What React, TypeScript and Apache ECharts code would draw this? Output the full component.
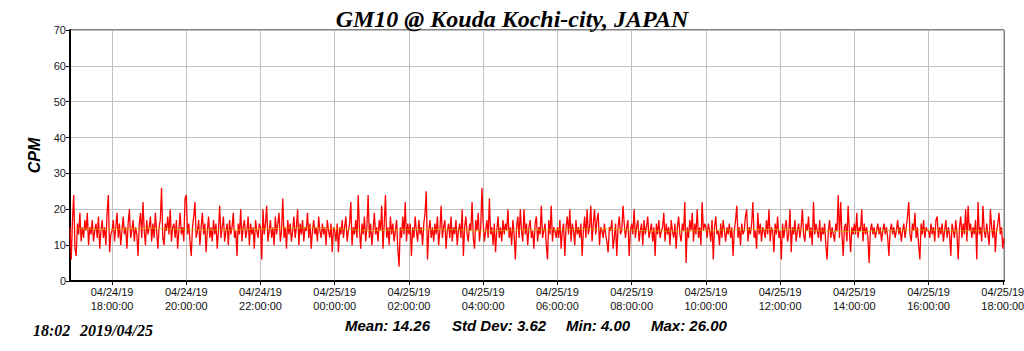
import React, { useEffect, useRef } from "react";
import * as echarts from "echarts";

// Time axis: minutes since 2019-04-24 00:00, samples every 2 minutes
const START_MIN = 1012; // 04/24 16:52
const STEP_MIN = 2;
const END_MIN = 2522; // 04/25 18:02
const tickMinutes = [1080, 1200, 1320, 1440, 1560, 1680, 1800, 1920, 2040, 2160, 2280, 2400, 2520];
const yTicks = [0, 10, 20, 30, 40, 50, 60, 70];

// CPM readings (2-minute samples) per 2-hour block
const block0 = [15, 6, 17, 24, 9, 7, 16, 13, 19, 11, 15, 12, 17, 14, 19, 10, 15, 13, 17, 11, 14, 16, 12, 18, 9, 14, 17, 12, 15, 10, 19, 24, 8, 13];
const block1 = [14, 17, 11, 15, 19, 12, 16, 10, 14, 18, 13, 15, 9, 16, 20, 12, 14, 17, 11, 15, 13, 7, 16, 19, 12, 22, 14, 10, 17, 13, 15, 18, 11, 16, 12, 19, 14, 9, 15, 17, 26, 12, 10, 16, 14, 18, 13, 20, 11, 15, 16, 12, 17, 9, 14, 19, 13, 15, 11, 23];
const block2 = [24, 13, 16, 11, 7, 15, 18, 22, 12, 14, 17, 10, 15, 19, 13, 16, 8, 14, 18, 12, 15, 11, 17, 13, 16, 9, 14, 21, 12, 15, 18, 11, 14, 16, 10, 17, 13, 15, 19, 12, 14, 7, 16, 13, 20, 11, 15, 17, 12, 14, 18, 10, 16, 13, 15, 9, 17, 14, 12, 16];
const block3 = [15, 6, 20, 13, 16, 21, 11, 14, 17, 12, 15, 10, 18, 13, 16, 19, 11, 14, 23, 12, 15, 9, 17, 13, 16, 11, 14, 18, 12, 15, 20, 10, 16, 13, 17, 11, 15, 14, 19, 12, 16, 9, 14, 17, 13, 15, 11, 18, 14, 12, 16, 13, 15, 10, 17, 14, 12, 16, 8, 15];
const block4 = [14, 11, 16, 8, 15, 13, 17, 12, 15, 18, 11, 14, 16, 22, 10, 15, 13, 17, 12, 24, 14, 9, 16, 13, 18, 11, 15, 24, 12, 16, 10, 14, 19, 13, 15, 11, 17, 14, 21, 9, 16, 24, 12, 15, 10, 18, 13, 16, 11, 14, 17, 9, 4, 15, 12, 18, 13, 22, 11, 16];
const block5 = [13, 16, 7, 15, 12, 18, 14, 11, 17, 13, 15, 10, 16, 19, 25, 6, 14, 17, 12, 15, 11, 16, 13, 18, 10, 14, 21, 12, 15, 17, 9, 14, 16, 12, 18, 11, 15, 13, 17, 10, 14, 16, 12, 20, 7, 15, 18, 13, 11, 16, 14, 22, 12, 9, 17, 14, 19, 11, 15, 26];
const block6 = [16, 11, 14, 17, 12, 23, 13, 15, 10, 16, 8, 14, 18, 12, 15, 11, 17, 13, 16, 14, 20, 12, 15, 10, 17, 13, 6, 15, 18, 12, 20, 14, 11, 20, 13, 16, 10, 15, 17, 12, 14, 9, 16, 18, 11, 15, 13, 21, 12, 14, 16, 10, 6, 17, 13, 21, 11, 15, 14, 12];
const block7 = [15, 12, 17, 9, 14, 16, 7, 15, 18, 13, 20, 11, 16, 14, 10, 17, 13, 15, 12, 16, 7, 14, 18, 12, 20, 13, 15, 21, 11, 16, 20, 13, 17, 19, 10, 15, 14, 12, 16, 13, 11, 8, 15, 14, 17, 9, 12, 16, 7, 15, 18, 13, 14, 21, 16, 12, 15, 17, 7, 14];
const block8 = [16, 13, 20, 12, 15, 17, 11, 14, 16, 10, 17, 13, 15, 18, 12, 14, 16, 11, 15, 7, 16, 13, 17, 12, 14, 15, 19, 11, 16, 13, 15, 10, 17, 14, 12, 16, 9, 15, 18, 13, 11, 16, 14, 22, 5, 15, 12, 17, 14, 19, 11, 16, 13, 20, 12, 15, 10, 22, 14, 16];
const block9 = [15, 12, 16, 14, 11, 17, 6, 15, 18, 13, 14, 10, 16, 12, 17, 14, 11, 15, 13, 16, 12, 15, 7, 14, 17, 21, 12, 15, 10, 16, 13, 14, 18, 20, 11, 15, 13, 16, 22, 12, 14, 9, 19, 13, 16, 11, 15, 14, 12, 17, 13, 20, 11, 15, 14, 8, 16, 13, 18, 12];
const block10 = [14, 6, 16, 12, 15, 17, 11, 13, 20, 8, 15, 13, 17, 11, 14, 16, 12, 15, 20, 13, 11, 16, 14, 18, 12, 15, 10, 22, 13, 16, 14, 12, 17, 11, 15, 13, 16, 10, 6, 14, 17, 12, 15, 13, 11, 16, 14, 24, 12, 22, 13, 7, 15, 16, 11, 21, 14, 8, 15, 13];
const block11 = [16, 13, 19, 12, 15, 14, 20, 11, 16, 13, 15, 12, 5, 14, 16, 13, 15, 12, 14, 16, 13, 15, 11, 14, 16, 13, 15, 12, 7, 14, 16, 13, 15, 12, 14, 17, 13, 15, 11, 14, 16, 12, 15, 18, 22, 13, 11, 16, 14, 19, 12, 15, 10, 6, 16, 13, 17, 12, 15, 14];
const block12 = [14, 12, 16, 13, 15, 11, 17, 18, 12, 15, 13, 16, 11, 14, 17, 12, 15, 13, 7, 16, 14, 12, 17, 13, 6, 15, 18, 12, 16, 13, 20, 11, 21, 14, 16, 12, 15, 13, 17, 6, 22, 13, 15, 11, 21, 14, 12, 16, 13, 10, 20, 15, 12, 17, 8, 14, 16, 19, 13, 15];
const tail = [9, 12];

// Hourly moving-average line (04/24 17:00 ... 04/25 18:00)
const maStartMin = 1020;
const maValues = [14.6, 14.4, 14.7, 14.3, 14.2, 14.5, 14.8, 14.6, 14.1, 14.3, 14.4, 14.0, 14.2, 14.3, 14.5, 14.2, 13.9, 14.1, 14.3, 14.4, 14.0, 13.8, 14.1, 14.2, 14.0, 14.1];

const titleText = "GM10 @ Kouda Kochi-city, JAPAN";
const statsLabels = ["Mean: 14.26", "Std Dev: 3.62", "Min: 4.00", "Max: 26.00"];
const stampLabels = ["18:02", "2019/04/25"];

const cpm = [
  ...block0, ...block1, ...block2, ...block3, ...block4, ...block5, ...block6,
  ...block7, ...block8, ...block9, ...block10, ...block11, ...block12, ...tail,
];

const pad = (n: number) => (n < 10 ? "0" + n : "" + n);
const fmt = (v: number) => {
  const day = v >= 1440 ? 25 : 24;
  const m = Math.round(v) % 1440;
  return `04/${day}/19\n${pad(Math.floor(m / 60))}:${pad(m % 60)}:00`;
};

export default function App() {
  const ref = useRef<HTMLDivElement>(null);
  useEffect(() => {
    if (!ref.current) return;
    const chart = echarts.init(ref.current, undefined, { renderer: "svg" });
    const redData = cpm.map((v, i) => [START_MIN + i * STEP_MIN, v]);
    const maData = maValues.map((v, i) => [maStartMin + i * 60, v]);
    const statX = [345, 452, 566, 651];
    chart.setOption({
      animation: false,
      backgroundColor: "#ffffff",
      title: {
        text: titleText,
        left: "center",
        top: 2,
        textStyle: {
          fontFamily: "Liberation Serif",
          fontStyle: "italic",
          fontWeight: "bold",
          fontSize: 24,
          color: "#000",
        },
      },
      grid: {
        left: 70,
        right: 20,
        top: 30,
        bottom: 70,
        show: true,
        borderColor: "#000",
        borderWidth: 1,
        outerBoundsMode: "none",
        containLabel: false,
      },
      xAxis: {
        type: "value",
        min: START_MIN,
        max: END_MIN,
        axisLine: { show: true, lineStyle: { color: "#000", width: 2 } },
        axisTick: { show: true, length: 4, lineStyle: { color: "#000" }, customValues: tickMinutes },
        axisLabel: {
          customValues: tickMinutes,
          formatter: (v: number) => fmt(v),
          fontFamily: "Liberation Sans",
          fontSize: 11,
          color: "#111",
          lineHeight: 14,
          margin: 4,
          hideOverlap: false,
        },
        splitLine: { show: true, lineStyle: { color: "#c0c0c0", width: 1 } },
      },
      yAxis: {
        type: "value",
        min: 0,
        max: 70,
        interval: 10,
        name: "CPM",
        nameLocation: "middle",
        nameRotate: 90,
        nameGap: 24,
        nameTextStyle: {
          fontFamily: "Liberation Sans",
          fontStyle: "italic",
          fontWeight: "bold",
          fontSize: 16,
          color: "#000",
        },
        axisLine: { show: true, lineStyle: { color: "#000", width: 2 } },
        axisTick: { show: true, length: 4, lineStyle: { color: "#000" } },
        axisLabel: {
          fontFamily: "Liberation Sans",
          fontSize: 11,
          color: "#222",
          margin: 4,
          customValues: yTicks,
        },
        splitLine: { show: true, lineStyle: { color: "#c0c0c0", width: 1 } },
      },
      series: [
        {
          type: "line",
          data: redData,
          showSymbol: false,
          symbol: "none",
          lineStyle: { color: "#ff0000", width: 1.3 },
          z: 2,
        },
        {
          type: "line",
          data: maData,
          showSymbol: false,
          symbol: "none",
          smooth: true,
          lineStyle: { color: "rgba(190,190,0,0.7)", width: 1 },
          z: 3,
        },
      ],
      graphic: [
        ...statsLabels.map((t, i) => ({
          type: "text",
          left: statX[i],
          top: 318,
          style: {
            text: t,
            font: "italic bold 15px 'Liberation Sans'",
            fill: "#000",
          },
        })),
        {
          type: "text",
          left: 33,
          top: 322,
          style: { text: stampLabels[0], font: "italic bold 16px 'Liberation Serif'", fill: "#000" },
        },
        {
          type: "text",
          left: 80,
          top: 322,
          style: { text: stampLabels[1], font: "italic bold 16px 'Liberation Serif'", fill: "#000" },
        },
      ],
    });
    return () => chart.dispose();
  }, []);
  return (
    <div
      ref={ref}
      style={{ position: "fixed", left: 0, top: 0, width: 1024, height: 351, background: "#fff" }}
    />
  );
}
